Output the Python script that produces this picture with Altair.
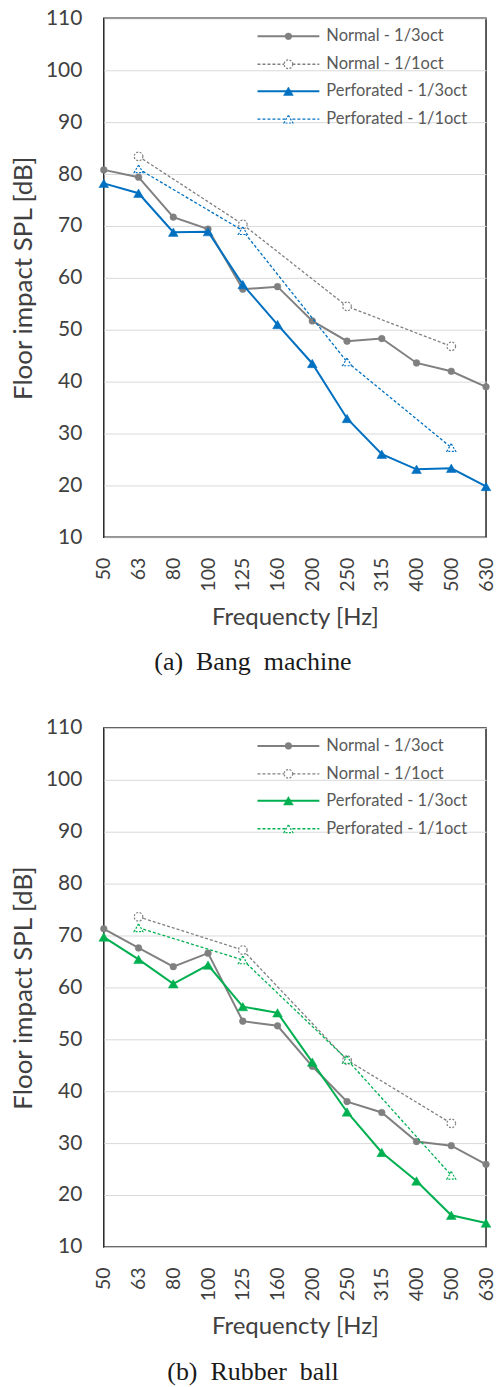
import altair as alt
import pandas as pd

# 1/3-octave and 1/1-octave band centre frequencies [Hz]
freqs = ["50", "63", "80", "100", "125", "160", "200", "250", "315", "400", "500", "630"]
oct_freqs = ["63", "125", "250", "500"]

# (a) Bang machine, floor impact SPL [dB]
bang_normal_third = [80.8, 79.4, 71.7, 69.4, 57.8, 58.3, 51.7, 47.8, 48.3, 43.6, 42.0, 39.0]
bang_normal_oct = [83.4, 70.3, 54.5, 46.8]
bang_perf_third = [78.2, 76.3, 68.8, 68.9, 58.7, 51.0, 43.5, 32.9, 26.0, 23.1, 23.3, 19.8]
bang_perf_oct = [81.0, 69.1, 43.8, 27.3]

# (b) Rubber ball, floor impact SPL [dB]
ball_normal_third = [71.3, 67.6, 64.0, 66.6, 53.5, 52.6, 44.8, 38.0, 35.9, 30.3, 29.5, 25.9]
ball_normal_oct = [73.6, 67.2, 46.0, 33.8]
ball_perf_third = [69.7, 65.4, 60.7, 64.3, 56.3, 55.1, 45.6, 36.0, 28.2, 22.7, 16.1, 14.6]
ball_perf_oct = [71.5, 65.3, 46.1, 23.8]

series_labels = ["Normal - 1/3oct", "Normal - 1/1oct", "Perforated - 1/3oct", "Perforated - 1/1oct"]

GRAY = "#808080"
BLUE = "#0070C0"
GREEN = "#00B050"
FONT = "Lato"
SERIF = "Liberation Serif"
W, H = 383, 520


def point_style(color, shape, filled, size):
    kw = dict(shape=shape, size=size, opacity=1)
    if filled:
        kw.update(filled=True, fill=color, stroke=color, strokeWidth=0.5)
    else:
        kw.update(filled=False, fill="white", fillOpacity=1, stroke=color,
                  strokeWidth=1.2, strokeDash=[2, 1.5])
    return kw


def line_style(color, dashed):
    kw = dict(color=color, strokeWidth=1.3 if dashed else 2.0)
    if dashed:
        kw["strokeDash"] = [3, 2]
    return kw


def series_layers(xs, ys, color, dashed, shape, filled, size):
    df = pd.DataFrame({"freq": xs, "spl": ys})
    base = alt.Chart(df).encode(
        x=alt.X("freq:N", sort=freqs),
        y=alt.Y("spl:Q"),
    )
    return [base.mark_line(**line_style(color, dashed)),
            base.mark_point(**point_style(color, shape, filled, size))]


def legend_layers(styles):
    layers = []
    row_y = [18, 46, 73, 101]
    for (label, color, dashed, shape, filled, size), ry in zip(styles, row_y):
        layers.append(alt.Chart().mark_rule(**line_style(color, dashed)).encode(
            x=alt.value(154), x2=alt.value(216), y=alt.value(ry)))
        layers.append(alt.Chart().mark_point(**point_style(color, shape, filled, size)).encode(
            x=alt.value(185), y=alt.value(ry)))
        layers.append(alt.Chart().mark_text(
            align="left", baseline="middle", font=FONT, fontSize=16.5, color="#595959"
        ).encode(x=alt.value(223), y=alt.value(ry), text=alt.value(label)))
    return layers


def panel(n3, n1, p3, p1, accent, caption):
    styles = [
        (series_labels[0], GRAY, False, "circle", True, 45),
        (series_labels[1], GRAY, True, "circle", False, 75),
        (series_labels[2], accent, False, "triangle-up", True, 95),
        (series_labels[3], accent, True, "triangle-up", False, 80),
    ]
    data = [(freqs, n3), (oct_freqs, n1), (freqs, p3), (oct_freqs, p1)]
    layers = []
    for (xs, ys), (_, color, dashed, shape, filled, size) in zip(data, styles):
        layers += series_layers(xs, ys, color, dashed, shape, filled, size)

    # invisible layer that carries the axes and gridlines
    frame = alt.Chart(pd.DataFrame({"freq": freqs, "spl": [None] * len(freqs)})).mark_point(
        opacity=0).encode(
        x=alt.X("freq:N", sort=freqs,
                scale=alt.Scale(domain=freqs, padding=0),
                axis=alt.Axis(title="Frequencty [Hz]", labelAngle=-90, labelPadding=20,
                              labelFontSize=19.5, titleFontSize=24, titlePadding=14,
                              ticks=False, domain=False,
                              gridColor="#d9d9d9", gridWidth=1)),
        y=alt.Y("spl:Q",
                scale=alt.Scale(domain=[10, 110], nice=False, zero=False),
                axis=alt.Axis(title="Floor impact SPL [dB]", values=list(range(10, 111, 10)),
                              labelFontSize=21, titleFontSize=26,
                              labelPadding=22, titlePadding=9, ticks=False, domain=False,
                              gridColor="#d9d9d9", gridWidth=1)),
    )
    return alt.layer(frame, *layers, *legend_layers(styles)).properties(
        width=W, height=H,
        title=alt.TitleParams(caption, orient="bottom", font=SERIF, fontSize=26,
                              fontWeight="normal", color="#1a1a1a", offset=20,
                              anchor="middle", frame="bounds"),
    )


top = panel(bang_normal_third, bang_normal_oct, bang_perf_third, bang_perf_oct,
            BLUE, "(a)\u00a0 Bang\u00a0 machine")
bottom = panel(ball_normal_third, ball_normal_oct, ball_perf_third, ball_perf_oct,
               GREEN, "(b)\u00a0 Rubber\u00a0 ball")

chart = alt.vconcat(top, bottom, spacing=40).configure(
    background="white",
    padding={"left": 9, "top": 5, "right": 0, "bottom": 0},
).configure_view(
    stroke="#262626", strokeWidth=1.5
).configure_axis(
    labelFont=FONT, labelColor="#404040",
    titleFont=FONT, titleColor="#404040", titleFontWeight="normal",
)

chart.save("out.html", embed_options={"renderer": "svg", "actions": False})
